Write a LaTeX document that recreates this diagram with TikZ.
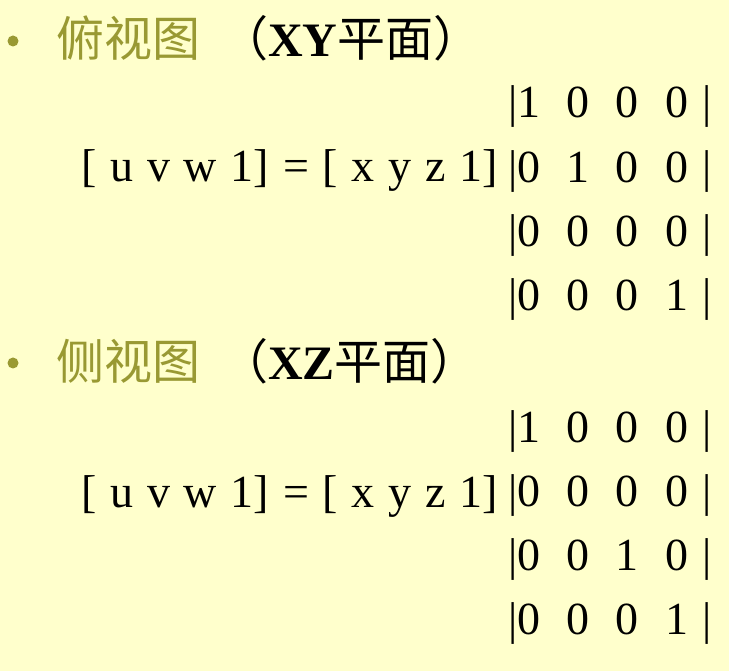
\documentclass[tikz,border=0pt]{standalone}
\usepackage{fontspec}
\setmainfont{Liberation Serif}
\newfontfamily\cjk{Noto Sans CJK SC}
\newfontfamily\eqnfont[WordSpace=1.2]{Liberation Serif}
\definecolor{paper}{RGB}{255,255,204}
\definecolor{olive}{RGB}{153,153,51}
\begin{document}
\begin{tikzpicture}[x=1pt,y=1pt]
\tikzstyle{every node}+=[inner sep=0pt]
\tikzstyle{cell}=[anchor=base,font=\fontsize{46}{46}\selectfont]
\tikzstyle{eqn}=[anchor=base west,font=\fontsize{46}{46}\eqnfont]
\tikzstyle{head}=[anchor=base west,font=\fontsize{48}{48}\selectfont]
\fill [paper] (0,0) rectangle (729,-671);
\useasboundingbox (0,0) rectangle (729,-671);
\node [circle,fill=olive,minimum size=11pt] (b1) at (13,-41) {};
\node [head,text=olive] (t1) at (56,-57) {\cjk 俯视图};
\node [head] (p1) at (220,-57) {{\cjk （}{\bfseries XY}{\cjk 平面）}};
\node [eqn] (e1) at (81,-182) {[ u v w 1] = [ x y z 1]};
\foreach \r/\a/\b/\c/\d in {1/1/0/0/0,2/0/1/0/0,3/0/0/0/0,4/0/0/0/1}
{
\node [cell] (l1\r) at (513,-118-64.3*\r+64.3) {|};
\node [cell] (a1\r) at (529,-118-64.3*\r+64.3) {\a};
\node [cell] (b1\r) at (578,-118-64.3*\r+64.3) {\b};
\node [cell] (c1\r) at (627,-118-64.3*\r+64.3) {\c};
\node [cell] (d1\r) at (677,-118-64.3*\r+64.3) {\d};
\node [cell] (r1\r) at (707,-118-64.3*\r+64.3) {|};
}
\node [circle,fill=olive,minimum size=11pt] (b2) at (13,-363) {};
\node [head,text=olive] (t2) at (56,-379) {\cjk 侧视图};
\node [head] (p2) at (220,-379) {{\cjk （}{\bfseries XZ}{\cjk 平面）}};
\node [eqn] (e2) at (81,-507) {[ u v w 1] = [ x y z 1]};
\foreach \r/\a/\b/\c/\d in {1/1/0/0/0,2/0/0/0/0,3/0/0/1/0,4/0/0/0/1}
{
\node [cell] (l2\r) at (513,-442-64.3*\r+64.3) {|};
\node [cell] (a2\r) at (529,-442-64.3*\r+64.3) {\a};
\node [cell] (b2\r) at (578,-442-64.3*\r+64.3) {\b};
\node [cell] (c2\r) at (627,-442-64.3*\r+64.3) {\c};
\node [cell] (d2\r) at (677,-442-64.3*\r+64.3) {\d};
\node [cell] (r2\r) at (707,-442-64.3*\r+64.3) {|};
}
\end{tikzpicture}
\end{document}
